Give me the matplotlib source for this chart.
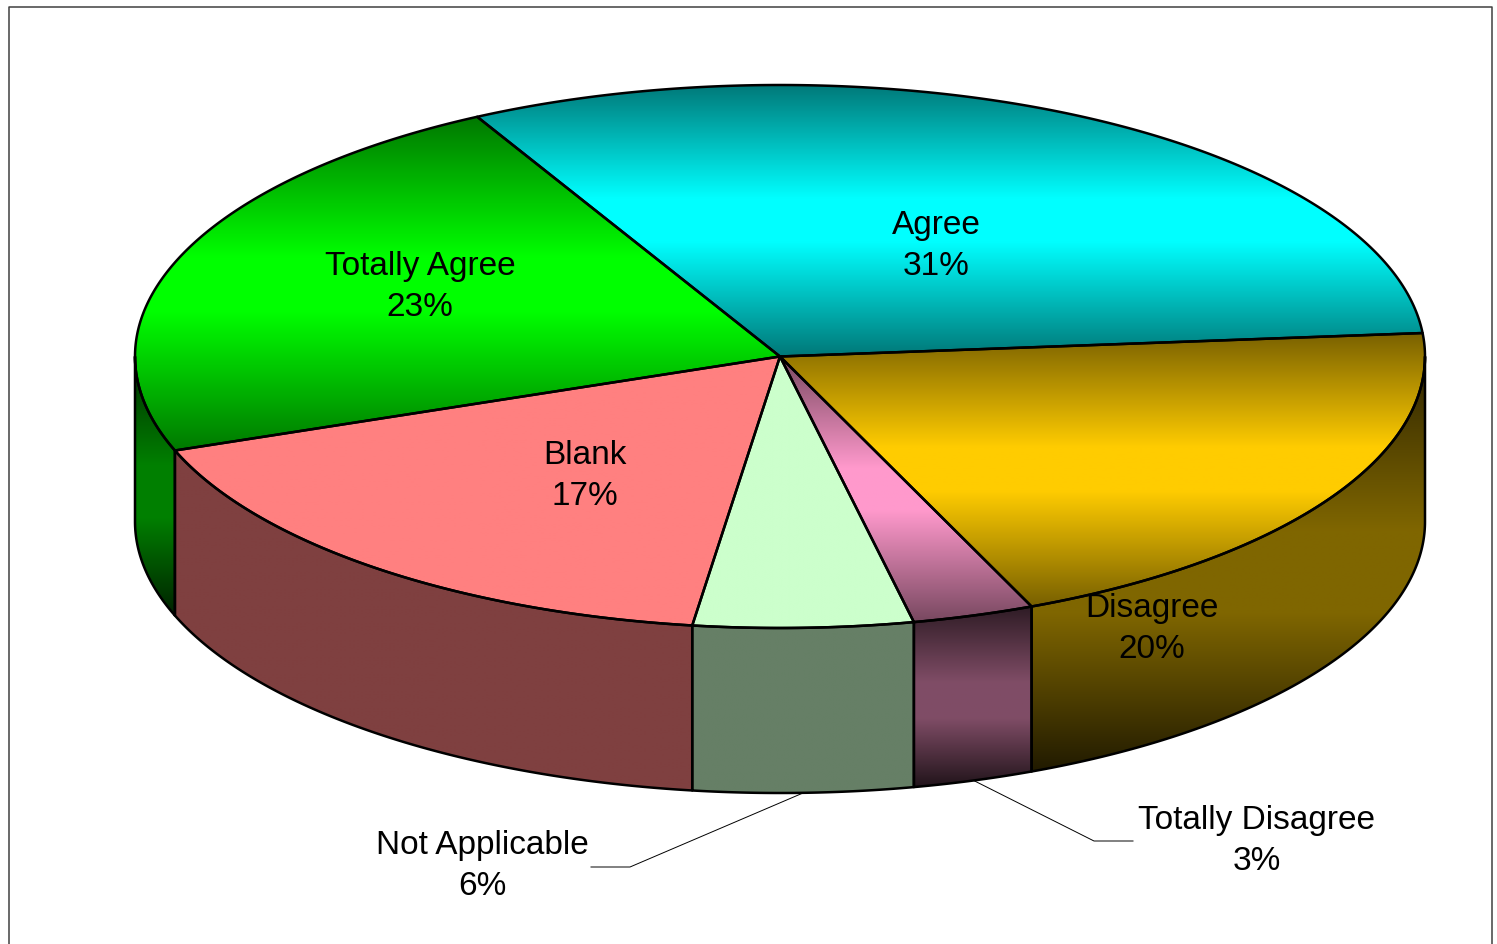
import numpy as np
import matplotlib
matplotlib.use("Agg")
import matplotlib.pyplot as plt
from matplotlib.patches import Polygon

labels = ["Agree", "Disagree", "Totally Disagree", "Not Applicable", "Blank", "Totally Agree"]
values = [31.4, 20.0, 3.05, 5.5, 17.2, 22.85]
colors = [(0, 255, 255), (255, 204, 0), (255, 153, 204), (204, 255, 204), (255, 128, 128), (0, 255, 0)]
shaded = [True, True, True, False, False, True]
label_pos = [(936, 246), (1152, 629), (1257, 841), (482, 866), (585, 476), (420, 287)]
elbows = {"Totally Disagree": [(1094, 841), (1133, 841)], "Not Applicable": [(630, 867), (591, 867)]}

# pie geometry in pixels
cx, cy = 780, 356.5
rx, ry = 645, 271.5
depth = 165
start_angle = 118

plt.rcParams['font.family'] = ['Liberation Sans', 'DejaVu Sans']
fig = plt.figure(figsize=(14.97, 9.44), dpi=100)
ax = fig.add_axes([0, 0, 1, 1])


def arc(a1, a2, dy=0):
    t = np.radians(np.linspace(a1, a2, 200))
    return np.column_stack([cx + rx * np.cos(t), cy - ry * np.sin(t) + dy])


# dark at both ends, full colour in the middle
def fill_gradient(poly, color, stops, levels):
    y0, y1 = poly[:, 1].min(), poly[:, 1].max()
    yy = np.linspace(0, 1, 400)
    col = np.column_stack([np.interp(yy, stops, levels) * c / 255 for c in color])
    im = ax.imshow(col[:, None, :], extent=(poly[:, 0].min(), poly[:, 0].max(), y1, y0),
                   aspect='auto', zorder=2, interpolation='bilinear')
    patch = Polygon(poly, closed=True, fc='none', ec='black', lw=1.8, joinstyle='round', zorder=3)
    ax.add_patch(patch)
    im.set_clip_path(patch)


angles = start_angle - np.cumsum([0] + values) * 3.6

for i in range(len(values)):
    a1, a2 = angles[i], angles[i + 1]
    # side wall, only the part facing the viewer
    s1 = a1 if a1 <= 0 else 0
    s2 = a2 if a2 >= -180 else -180
    if a1 > -180 and s1 > s2 and a2 < 0:
        top = arc(s1, s2)
        bottom = arc(s2, s1, depth)
        poly = np.vstack([top, bottom])
        if shaded[i]:
            fill_gradient(poly, colors[i], [0, 0.42, 0.62, 1], [0.18, 0.5, 0.5, 0.13])
        else:
            fill_gradient(poly, colors[i], [0, 1], [0.5, 0.5])

for i in range(len(values)):
    a1, a2 = angles[i], angles[i + 1]
    poly = np.vstack([[cx, cy], arc(a1, a2)])
    if shaded[i]:
        fill_gradient(poly, colors[i], [0, 0.42, 0.58, 1], [0.47, 1, 1, 0.47])
    else:
        fill_gradient(poly, colors[i], [0, 1], [1, 1])

for i, name in enumerate(labels):
    ax.text(label_pos[i][0], label_pos[i][1], f"{name}\n{values[i]:.0f}%", ha='center', va='center',
            fontsize=24, color='black', linespacing=1.44, zorder=5)
    if name in elbows:
        mid = np.radians((angles[i] + angles[i + 1]) / 2)
        pts = [(cx + rx * np.cos(mid), cy - ry * np.sin(mid) + depth)] + elbows[name]
        ax.plot(*zip(*pts), color='black', lw=0.7, zorder=1)

# chart frame, runs off the bottom of the picture
ax.plot([9, 9, 1492, 1492], [960, 6.5, 6.5, 960], color='#404040', lw=1.1, zorder=1)

ax.set_xlim(0, 1497)
ax.set_ylim(944, 0)
ax.axis('off')
fig.savefig("out.png", dpi=100)
